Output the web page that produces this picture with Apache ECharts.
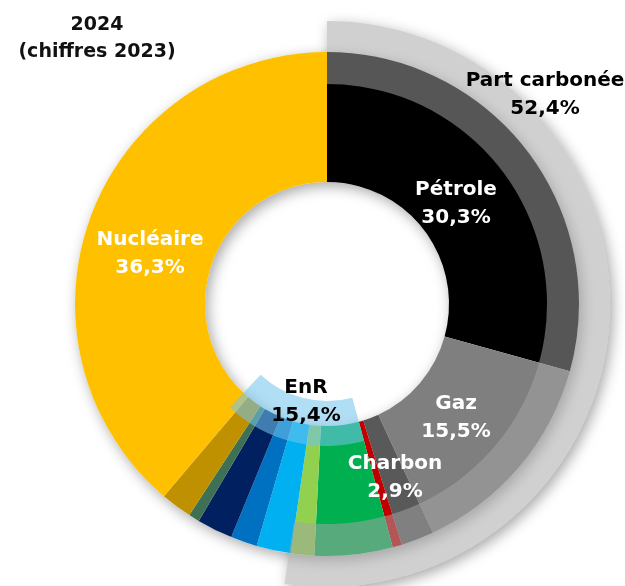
<!DOCTYPE html>
<html>
<head>
<meta charset="utf-8">
<script src="https://cdn.jsdelivr.net/npm/echarts@6/dist/echarts.min.js"></script>
<style>
html,body{margin:0;padding:0;background:#ffffff;}
#chart{width:625px;height:586px;}
</style>
</head>
<body>
<div id="chart"></div>
<script>
// ---- Data (shares of the full circle, clockwise from 12 o'clock) ----
const segmentNames = ['Pétrole', 'Gaz', 'Charbon', 'Charbon (rouge)', 'EnR vert', 'EnR vert clair',
  'EnR cyan', 'EnR bleu', 'EnR bleu marine', 'EnR vert foncé', 'EnR or', 'Nucléaire'];
const segmentValues = [29.3, 13.8, 2.1, 0.6, 5.0, 1.5, 2.2, 1.7, 2.3, 0.7, 2.0, 38.8];
const segmentColors = ['#000000', '#7f7f7f', '#595959', '#c00000', '#00b050', '#92d050',
  '#00b0f0', '#0070c0', '#002060', '#3e7153', '#bf9000', '#ffc000'];

// Inner light-blue "EnR" band: [before, EnR band, after]
const enrBandValues = [45.8, 16.2, 38.0];

// Outer "Part carbonée" band: [carbonée, reste]
const carbonValues = [52.4, 47.6];

// Text labels
const labelNames = ['Nucléaire', 'Pétrole', 'Gaz', 'Charbon', 'EnR', 'Part carbonée'];
const labelPercents = ['36,3%', '30,3%', '15,5%', '2,9%', '15,4%', '52,4%'];
const titleLines = ['2024', '(chiffres 2023)'];

// ---- Layout ----
const C = [327, 304];
const R_IN = 122, R_MID = 220, R_OUT = 252, R_CARB = 283;
const ENR_IN = 97, ENR_OUT = 142;
const TRANSPARENT = 'rgba(0,0,0,0)';

const common = {
  type: 'pie', center: C, startAngle: 90, clockwise: true, silent: true,
  avoidLabelOverlap: false, label: {show: false}, labelLine: {show: false},
  emphasis: {disabled: true}, animation: false
};

const shadowStyle = {
  color: '#ffffff', borderWidth: 0,
  shadowBlur: 14, shadowColor: 'rgba(0,0,0,0.35)', shadowOffsetX: 3, shadowOffsetY: 4
};

const series = [
  // shadow base for the carbon band
  Object.assign({}, common, {
    z: 1, radius: [R_MID, R_CARB],
    data: carbonValues.map((v, i) => ({
      value: v, name: i === 0 ? 'Part carbonée' : 'reste',
      itemStyle: i === 0 ? shadowStyle : {color: TRANSPARENT, borderWidth: 0}
    }))
  }),
  // shadow base for the main ring
  Object.assign({}, common, {
    z: 2, radius: [R_IN, R_OUT],
    data: [{value: segmentValues.reduce((a, b) => a + b, 0), name: 'base', itemStyle: shadowStyle}]
  }),
  // main ring
  Object.assign({}, common, {
    z: 3, radius: [R_IN, R_OUT],
    data: segmentNames.map((n, i) => ({
      name: n, value: segmentValues[i],
      itemStyle: {color: segmentColors[i], borderWidth: 0}
    }))
  }),
  // semi-transparent "Part carbonée" overlay
  Object.assign({}, common, {
    z: 4, radius: [R_MID, R_CARB],
    data: carbonValues.map((v, i) => ({
      value: v, name: i === 0 ? 'Part carbonée' : 'reste',
      itemStyle: {color: i === 0 ? 'rgba(164,164,164,0.52)' : TRANSPARENT, borderWidth: 0}
    }))
  }),
  // semi-transparent EnR band
  Object.assign({}, common, {
    z: 5, radius: [ENR_IN, ENR_OUT],
    data: enrBandValues.map((v, i) => ({
      value: v, name: i === 1 ? 'EnR' : 'autre' + i,
      itemStyle: {color: i === 1 ? 'rgba(114,196,237,0.56)' : TRANSPARENT, borderWidth: 0}
    }))
  })
];

// Label placement (pixel centres of each two-line label)
const labelPos = [[150, 236], [456, 186], [456, 400], [395, 460], [306, 384], [545, 77]];
const labelColor = ['#ffffff', '#ffffff', '#ffffff', '#ffffff', '#000000', '#000000'];
const FONT = 'bold 20px "DejaVu Sans", sans-serif';

const graphics = [];
labelNames.forEach((n, i) => {
  graphics.push({
    type: 'text', z: 100, silent: true,
    style: {text: n + '\n' + labelPercents[i], x: labelPos[i][0], y: labelPos[i][1] - 10,
      align: 'center', verticalAlign: 'top', font: FONT, fill: labelColor[i], lineHeight: 28}
  });
});
graphics.push({
  type: 'text', z: 100, silent: true,
  style: {text: titleLines.join('\n'), x: 97, y: 12, align: 'center', verticalAlign: 'top',
    font: 'bold 19px "DejaVu Sans", sans-serif', fill: '#111111', lineHeight: 27}
});

const chart = echarts.init(document.getElementById('chart'), null, {renderer: 'canvas'});
chart.setOption({
  backgroundColor: '#ffffff',
  animation: false,
  series: series,
  graphic: graphics
});
</script>
</body>
</html>
